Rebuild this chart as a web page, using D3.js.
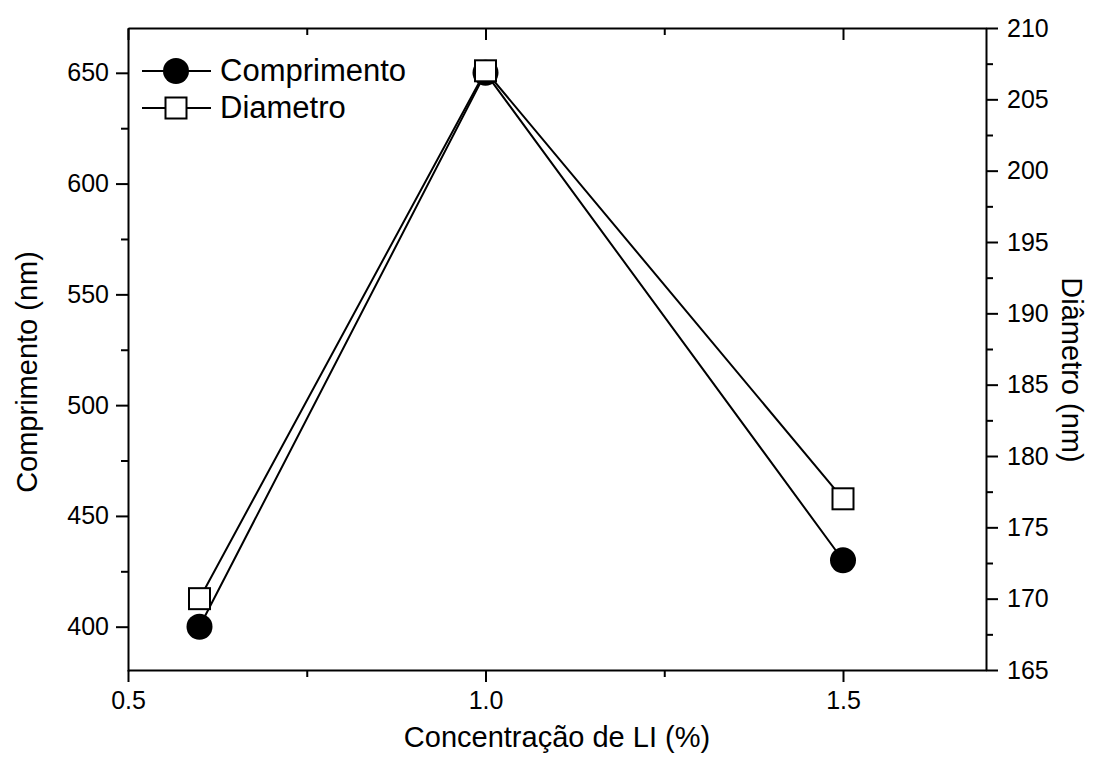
<!DOCTYPE html>
<html>
<head>
<meta charset="utf-8">
<script src="https://cdn.jsdelivr.net/npm/d3@7"></script>
<style>
  body { margin: 0; background: #fff; }
  svg { display: block; }
</style>
</head>
<body>
<div id="chart"></div>
<script>
// Data
const concentracao = [0.6, 1.0, 1.5];
const comprimento = [400, 650, 430];
const diametro = [170, 207, 177];

const xMajorTicks = [0.5, 1.0, 1.5];
const xMinorTicks = [0.75, 1.25];
const leftMajorTicks = [400, 450, 500, 550, 600, 650];
const leftMinorTicks = [425, 475, 525, 575, 625];
const rightMajorTicks = [165, 170, 175, 180, 185, 190, 195, 200, 205, 210];
const rightMinorTicks = [167.5, 172.5, 177.5, 182.5, 187.5, 192.5, 197.5, 202.5, 207.5];

const legendLabels = ["Comprimento", "Diametro"];

const WIDTH = 1101;
const HEIGHT = 760;
const PLOT = { left: 128, right: 986, top: 28, bottom: 670 };
const FONT = "'Liberation Sans', Arial, Helvetica, sans-serif";
const MAJOR = 12, MINOR = 7;

const svg = d3.select("#chart").append("svg")
    .attr("width", WIDTH)
    .attr("height", HEIGHT)
    .attr("viewBox", [0, 0, WIDTH, HEIGHT]);

const x = d3.scaleLinear().domain([0.5, 1.7]).range([PLOT.left, PLOT.right]);
const yLeft = d3.scaleLinear().domain([380, 670]).range([PLOT.bottom + 1, PLOT.top + 0.5]);
const yRight = d3.scaleLinear().domain([165, 210]).range([PLOT.bottom, PLOT.top]);

function styleAxis(g) {
    g.attr("font-family", FONT);
    g.selectAll("path.domain").attr("stroke", "#000").attr("stroke-width", 2);
    g.selectAll(".tick line").attr("stroke", "#000").attr("stroke-width", 2);
    g.selectAll(".tick text")
        .attr("fill", "#000")
        .style("font-family", FONT)
        .style("font-size", "25px");
}

// Bottom axis
svg.append("g")
    .attr("transform", `translate(0,${PLOT.bottom})`)
    .call(d3.axisBottom(x).tickValues(xMajorTicks).tickSize(MAJOR).tickSizeOuter(0)
        .tickPadding(9).tickFormat(d3.format(".1f")))
    .call(styleAxis);
svg.append("g")
    .attr("transform", `translate(0,${PLOT.bottom})`)
    .call(d3.axisBottom(x).tickValues(xMinorTicks).tickSize(MINOR).tickFormat(""))
    .call(styleAxis)
    .call(g => g.select(".domain").remove());

// Top axis (ticks inward, no labels)
svg.append("g")
    .attr("transform", `translate(0,${PLOT.top})`)
    .call(d3.axisTop(x).tickValues(xMajorTicks).tickSize(-MAJOR).tickSizeOuter(0).tickFormat(""))
    .call(styleAxis);
svg.append("g")
    .attr("transform", `translate(0,${PLOT.top})`)
    .call(d3.axisTop(x).tickValues(xMinorTicks).tickSize(-MINOR).tickFormat(""))
    .call(styleAxis)
    .call(g => g.select(".domain").remove());

// Left axis
svg.append("g")
    .attr("transform", `translate(${PLOT.left},0)`)
    .call(d3.axisLeft(yLeft).tickValues(leftMajorTicks).tickSize(MAJOR).tickSizeOuter(0).tickPadding(7))
    .call(styleAxis);
svg.append("g")
    .attr("transform", `translate(${PLOT.left},0)`)
    .call(d3.axisLeft(yLeft).tickValues(leftMinorTicks).tickSize(MINOR).tickFormat(""))
    .call(styleAxis)
    .call(g => g.select(".domain").remove());

// Right axis
svg.append("g")
    .attr("transform", `translate(${PLOT.right},0)`)
    .call(d3.axisRight(yRight).tickValues(rightMajorTicks).tickSize(MAJOR).tickSizeOuter(0).tickPadding(9))
    .call(styleAxis);
svg.append("g")
    .attr("transform", `translate(${PLOT.right},0)`)
    .call(d3.axisRight(yRight).tickValues(rightMinorTicks).tickSize(MINOR).tickFormat(""))
    .call(styleAxis)
    .call(g => g.select(".domain").remove());

// Axis titles
svg.append("text")
    .text("Concentração de LI (%)")
    .attr("x", (PLOT.left + PLOT.right) / 2)
    .attr("y", 747)
    .attr("text-anchor", "middle")
    .style("font-family", FONT)
    .style("font-size", "29px");

svg.append("text")
    .text("Comprimento (nm)")
    .attr("transform", "translate(37,372) rotate(-90)")
    .attr("text-anchor", "middle")
    .style("font-family", FONT)
    .style("font-size", "29px");

svg.append("text")
    .text("Diâmetro (nm)")
    .attr("transform", "translate(1062,370) rotate(90)")
    .attr("text-anchor", "middle")
    .style("font-family", FONT)
    .style("font-size", "29px");

// Series lines
const lineLeft = d3.line().x((d, i) => x(concentracao[i])).y(d => yLeft(d));
const lineRight = d3.line().x((d, i) => x(concentracao[i])).y(d => yRight(d));

svg.append("path")
    .attr("d", lineLeft(comprimento))
    .style("fill", "none")
    .style("stroke", "#000")
    .style("stroke-width", 2);

svg.append("path")
    .attr("d", lineRight(diametro))
    .style("fill", "none")
    .style("stroke", "#000")
    .style("stroke-width", 2);

// Markers
svg.selectAll("circle.comp")
    .data(comprimento)
    .join("circle")
    .attr("class", "comp")
    .attr("cx", (d, i) => x(concentracao[i]))
    .attr("cy", d => yLeft(d))
    .attr("r", 13)
    .style("fill", "#000");

const SQ = 21;
svg.selectAll("rect.diam")
    .data(diametro)
    .join("rect")
    .attr("class", "diam")
    .attr("x", (d, i) => x(concentracao[i]) - SQ / 2)
    .attr("y", d => yRight(d) - SQ / 2)
    .attr("width", SQ)
    .attr("height", SQ)
    .style("fill", "#fff")
    .style("stroke", "#000")
    .style("stroke-width", 2);

// Legend
const legend = svg.append("g");
const legendRows = [71, 108];
legendLabels.forEach(function(label, index) {
    const row = legendRows[index];
    legend.append("path")
        .attr("d", `M 142 ${row} L 211 ${row}`)
        .style("stroke", "#000")
        .style("stroke-width", 2);
    if (index === 0) {
        legend.append("circle")
            .attr("cx", 176).attr("cy", row).attr("r", 13)
            .style("fill", "#000");
    } else {
        legend.append("rect")
            .attr("x", 176 - SQ / 2).attr("y", row - SQ / 2)
            .attr("width", SQ).attr("height", SQ)
            .style("fill", "#fff").style("stroke", "#000").style("stroke-width", 2);
    }
    legend.append("text")
        .text(label)
        .attr("x", 220)
        .attr("y", row + 10)
        .style("font-family", FONT)
        .style("font-size", "31px");
});
</script>
</body>
</html>
